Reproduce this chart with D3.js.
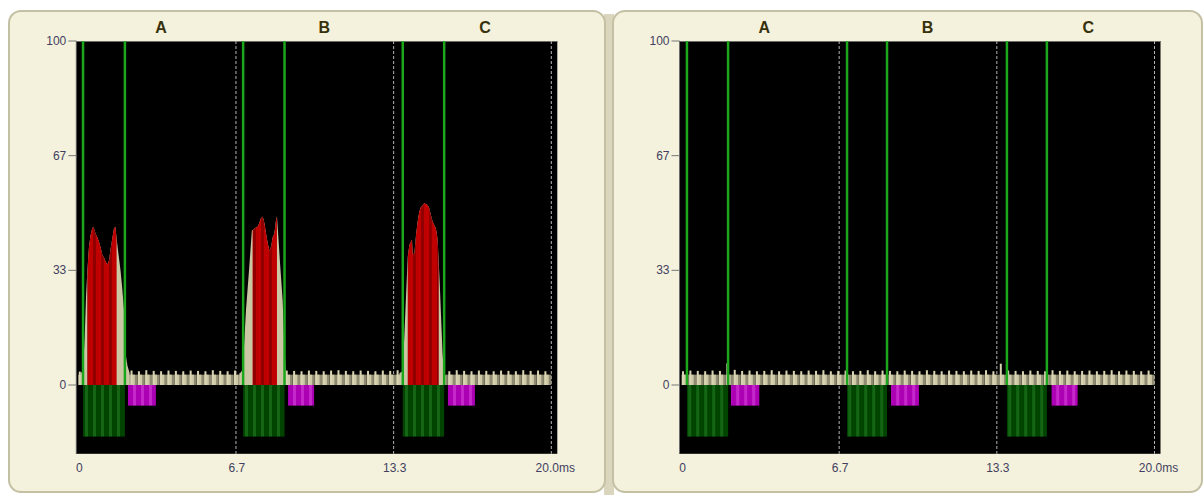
<!DOCTYPE html>
<html lang="en">
<head>
<meta charset="utf-8">
<title>Pulse windows A B C</title>
<script src="https://d3js.org/d3.v7.min.js"></script>
<style>
  body { margin: 0; background: #fff; }
  svg { display: block; }
  .tick-label { font-family: "Liberation Sans", Arial, sans-serif; font-size: 12px; fill: #433f60; }
  .seg-title { font-family: "Liberation Sans", Arial, sans-serif; font-size: 16px; font-weight: bold; fill: #37310c; }
</style>
</head>
<body>
<script>
// ---- data ----
const xTicks = [0, 20 / 3, 40 / 3, 20];
const xTickLabels = ["0", "6.7", "13.3", "20.0ms"];
const yTicks = [0, 100 / 3, 200 / 3, 100];
const yTickLabels = ["0", "33", "67", "100"];

const segmentNames = ["A", "B", "C"];
const segmentLabelTimes = [3.5, 10.4, 17.2];

// green receive windows (ms)
const windowStartsLeft = [0.2, 6.97, 13.72];
const windowEndsLeft = [1.97, 8.72, 15.47];
const windowStartsRight = [0.23, 7.0, 13.76];
const windowEndsRight = [1.97, 8.69, 15.45];
// magenta pulses (ms)
const pulseStartsLeft = [2.1, 8.87, 15.63];
const pulseEndsLeft = [3.28, 9.97, 16.77];
const pulseStartsRight = [2.09, 8.86, 15.65];
const pulseEndsRight = [3.29, 10.04, 16.75];
const windowBarLevel = -15;
const pulseBarLevel = -6;
const yBottom = -20;

// baseline noise, one tooth every 0.3125 ms
const toothStep = 0.3125;
const baseLevel = 3.0;
const teethLeft = [
  3.9, 4.1, 4.0, 4.2, 4.0, 4.1, 4.1, 4.2, 4.0, 4.3, 4.1, 4.0, 4.2, 4.1, 4.0, 4.2,
  4.1, 4.0, 4.3, 4.1, 4.0, 4.2, 4.1, 4.2, 4.0, 4.1, 4.3, 4.0, 4.2, 4.1, 4.0, 4.2,
  4.1, 4.0, 4.2, 4.3, 4.1, 4.0, 4.2, 4.1, 4.0, 4.2, 4.1, 4.3, 4.0, 4.1, 4.2, 4.0,
  4.1, 4.2, 4.0, 4.3, 4.1, 4.0, 4.2, 4.1, 4.0, 4.2, 4.1, 4.0, 4.3, 4.1, 4.2, 4.0
];
const teethRight = [
  4.0, 4.2, 4.1, 4.0, 4.2, 4.1, 6.3, 4.4, 4.1, 4.2, 4.0, 4.1, 4.3, 4.0, 4.2, 4.1,
  4.0, 4.2, 4.1, 4.3, 4.0, 4.1, 4.2, 4.0, 4.1, 4.3, 4.0, 4.2, 4.1, 4.0, 4.2, 4.1,
  4.0, 4.3, 4.1, 4.0, 4.2, 4.1, 4.0, 4.2, 4.1, 4.3, 4.0, 6.2, 4.2, 4.1, 4.0, 4.2,
  4.1, 4.0, 4.3, 4.1, 4.2, 4.0, 4.1, 4.2, 4.0, 4.1, 4.3, 4.0, 4.2, 4.1, 4.0, 4.2
];

// echo bursts in the left panel, [time ms, level]
const burstA = [[0.10,3.5],[0.20,4],[0.27,14],[0.33,26],[0.38,33],[0.45,40],[0.52,43.6],[0.59,45.6],
  [0.64,46],[0.69,45],[0.73,44],[0.80,43],[0.87,41.7],[0.95,39.8],[1.02,37.8],[1.09,37],[1.16,35.8],
  [1.23,35],[1.30,36.3],[1.37,39.8],[1.44,42.7],[1.51,45.6],[1.57,46],[1.62,42.5],[1.70,38],[1.79,33],
  [1.86,28],[1.93,22],[2.00,9],[2.08,5.5],[2.17,3.5]];
const burstB = [[6.81,3.4],[6.95,4],[7.09,21.8],[7.23,34.4],[7.34,45],[7.37,45],[7.44,45.5],[7.58,46],
  [7.65,47],[7.72,48.5],[7.80,49],[7.87,47],[7.94,44],[8.01,41.2],[8.08,39.2],[8.15,40.2],[8.22,43],
  [8.29,44],[8.36,48],[8.40,49],[8.44,45],[8.54,34.4],[8.64,24.7],[8.71,12],[8.78,3.4]];
const burstC = [[13.58,3.5],[13.72,4],[13.83,21.3],[13.93,37.3],[14.00,40.7],[14.07,41.7],[14.11,42.2],
  [14.14,38],[14.21,38.3],[14.28,43.6],[14.35,47.5],[14.42,50.4],[14.49,51.8],[14.63,52.8],[14.77,52.3],
  [14.84,51.4],[14.91,49.4],[14.98,47.5],[15.05,46.5],[15.12,45.5],[15.19,42.6],[15.24,35.8],[15.28,30],
  [15.33,21.3],[15.40,9.6],[15.47,1.5],[15.54,3]];
const redStartsLeft = [0.38, 7.37, 13.93];
const redEndsLeft = [1.62, 8.40, 15.24];

// ---- layout ----
const w = 1204, h = 495;
const panelShift = 603.2;

const svg = d3.select("body").append("svg")
  .attr("width", w)
  .attr("height", h);

const defs = svg.append("defs");
function stripes(id, c1, c2) {
  const p = defs.append("pattern")
    .attr("id", id)
    .attr("patternUnits", "userSpaceOnUse")
    .attr("width", 8).attr("height", 8);
  p.append("rect").attr("width", 8).attr("height", 8).attr("fill", c1);
  p.append("rect").attr("x", 5).attr("width", 3).attr("height", 8).attr("fill", c2);
}
stripes("redStripe", "#c00000", "#900000");
stripes("greenStripe", "#004400", "#146614");
stripes("magStripe", "#ac00b4", "#c528ca");

// panel boxes
svg.append("rect").attr("x", 604).attr("y", 14).attr("width", 10).attr("height", 481).attr("fill", "#dad6bd");
svg.append("rect")
  .attr("x", 9).attr("y", 11).attr("width", 596).attr("height", 481)
  .attr("rx", 12).attr("fill", "#f4f2dc").attr("stroke", "#c4c0a4").attr("stroke-width", 2);
svg.append("rect")
  .attr("x", 613).attr("y", 11).attr("width", 589).attr("height", 481)
  .attr("rx", 12).attr("fill", "#f4f2dc").attr("stroke", "#c4c0a4").attr("stroke-width", 2);

const xScale = d3.scaleLinear().domain([0, 20]).range([78.3, 551.3]);
const yScale = d3.scaleLinear().domain([yBottom, 100]).range([453.8, 41]);

function drawPanel(id, shift, teeth, wStarts, wEnds, pStarts, pEnds, bursts, rStarts, rEnds) {
  const g = svg.append("g").attr("transform", "translate(" + shift + ",0)");

  // black plot area
  g.append("rect")
    .attr("x", xScale(0) - 2.3)
    .attr("y", yScale(100))
    .attr("width", xScale(20) - xScale(0) + 8.3)
    .attr("height", yScale(yBottom) - yScale(100))
    .attr("fill", "#000");
  g.append("path")
    .attr("d", "M" + (xScale(0) - 2) + "," + yScale(yBottom) + "V" + (yScale(100) + 0.5) + "H" + (xScale(20) + 6))
    .attr("fill", "none")
    .attr("stroke", "#6c6c6c")
    .attr("stroke-width", 1);

  // dashed grid
  g.selectAll(".grid").data(xTicks.slice(1)).enter().append("line")
    .attr("x1", d => xScale(d)).attr("x2", d => xScale(d))
    .attr("y1", yScale(100)).attr("y2", yScale(yBottom))
    .attr("stroke", "#b4b4b4")
    .attr("stroke-dasharray", "3,2");

  // baseline teeth
  const tw = xScale(toothStep) - xScale(0);
  const tg = g.append("g");
  teeth.forEach((v, i) => {
    const x0 = xScale(i * toothStep);
    tg.append("rect").attr("x", x0).attr("width", tw)
      .attr("y", yScale(baseLevel)).attr("height", yScale(0) - yScale(baseLevel))
      .attr("fill", "#8f8b72");
    tg.append("rect").attr("x", x0 + 0.5).attr("width", tw * 0.58)
      .attr("y", yScale(baseLevel)).attr("height", yScale(0) - yScale(baseLevel))
      .attr("fill", "#cdc8a6");
    tg.append("rect").attr("x", x0 + 0.5).attr("width", 2)
      .attr("y", yScale(v)).attr("height", yScale(0) - yScale(v))
      .attr("fill", "#d9d4b2");
  });

  // bursts
  const area = d3.area()
    .x(d => xScale(d[0]))
    .y0(yScale(0))
    .y1(d => yScale(d[1]));
  bursts.forEach((b, i) => {
    g.append("path").attr("d", area(b)).attr("fill", "#cbc6a4");
    const cid = id + "clip" + i;
    g.append("clipPath").attr("id", cid).append("rect")
      .attr("x", xScale(rStarts[i])).attr("width", xScale(rEnds[i]) - xScale(rStarts[i]))
      .attr("y", yScale(100)).attr("height", yScale(0) - yScale(100));
    g.append("path").attr("d", area(b))
      .attr("fill", "url(#redStripe)")
      .attr("clip-path", "url(#" + cid + ")");
  });

  // window bars below zero
  g.selectAll(".win").data(wStarts).enter().append("rect")
    .attr("x", d => xScale(d))
    .attr("width", (d, i) => xScale(wEnds[i]) - xScale(d))
    .attr("y", yScale(0))
    .attr("height", yScale(windowBarLevel) - yScale(0))
    .attr("fill", "url(#greenStripe)");
  g.selectAll(".pulse").data(pStarts).enter().append("rect")
    .attr("x", d => xScale(d))
    .attr("width", (d, i) => xScale(pEnds[i]) - xScale(d))
    .attr("y", yScale(0))
    .attr("height", yScale(pulseBarLevel) - yScale(0))
    .attr("fill", "url(#magStripe)");

  // green window lines
  const edges = wStarts.concat(wEnds);
  g.selectAll(".edge").data(edges).enter().append("line")
    .attr("x1", d => xScale(d)).attr("x2", d => xScale(d))
    .attr("y1", yScale(100)).attr("y2", yScale(0))
    .attr("stroke", "#1ca61c")
    .attr("stroke-width", 2.5);

  // y ticks
  g.selectAll(".ytick").data(yTicks).enter().append("line")
    .attr("x1", xScale(0) - 10).attr("x2", xScale(0) - 2)
    .attr("y1", d => yScale(d)).attr("y2", d => yScale(d))
    .attr("stroke", "#777");
  g.selectAll(".ylab").data(yTicks).enter().append("text")
    .attr("class", "tick-label")
    .attr("x", xScale(0) - 12)
    .attr("y", d => yScale(d) + 4)
    .attr("text-anchor", "end")
    .text((d, i) => yTickLabels[i]);

  // x labels
  g.selectAll(".xlab").data(xTicks).enter().append("text")
    .attr("class", "tick-label")
    .attr("x", (d, i) => xScale(d) + (i === 3 ? 4 : 1))
    .attr("y", 472)
    .attr("text-anchor", "middle")
    .text((d, i) => xTickLabels[i]);

  // segment titles
  g.selectAll(".seg").data(segmentNames).enter().append("text")
    .attr("class", "seg-title")
    .attr("x", (d, i) => xScale(segmentLabelTimes[i]))
    .attr("y", 33)
    .attr("text-anchor", "middle")
    .text(d => d);
}

drawPanel("L", 0, teethLeft, windowStartsLeft, windowEndsLeft, pulseStartsLeft, pulseEndsLeft,
  [burstA, burstB, burstC], redStartsLeft, redEndsLeft);
drawPanel("R", panelShift, teethRight, windowStartsRight, windowEndsRight, pulseStartsRight, pulseEndsRight,
  [], [], []);
</script>
</body>
</html>
